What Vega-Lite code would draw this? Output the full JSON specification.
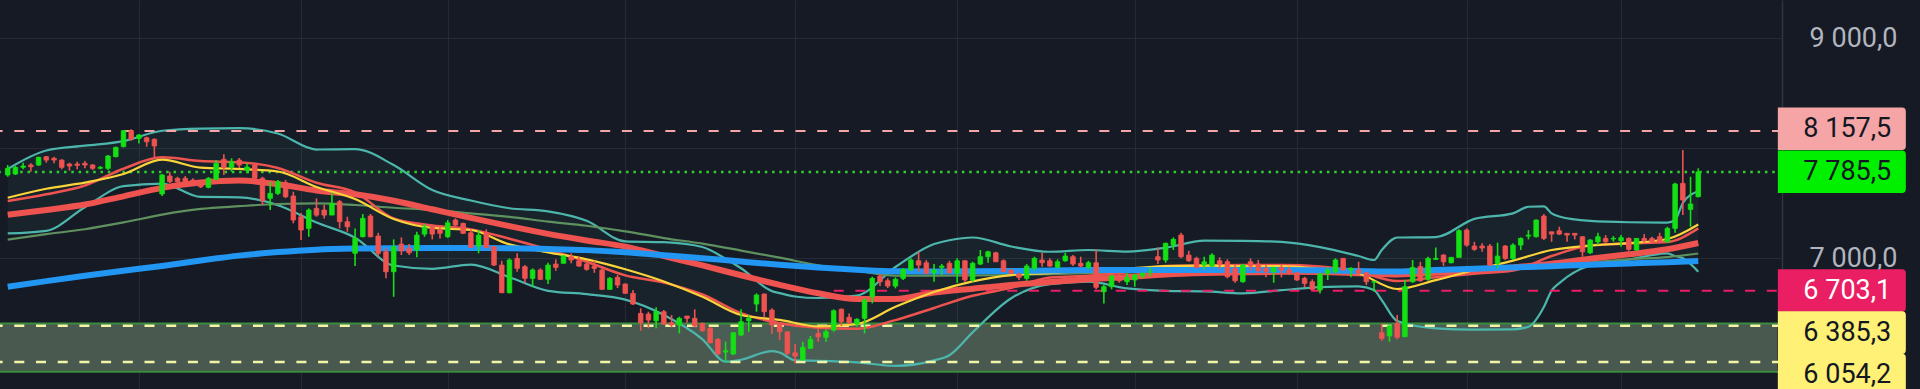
{
"$schema":"https://vega.github.io/schema/vega-lite/v6.json",
"width":1782,"height":389,
"padding":{"left":0,"top":0,"right":138,"bottom":0},
"autosize":{"type":"none"},
"background":"#161a25",
"config":{"view":{"stroke":null}},
"datasets":{
"candles":[
{"i":0,"o":7757,"h":7848,"l":7741,"c":7818},{"i":1,"o":7766,"h":7839,"l":7757,"c":7827},{"i":2,"o":7827,"h":7869,"l":7809,"c":7839},{"i":3,"o":7848,"h":7863,"l":7787,"c":7832},{"i":4,"o":7848,"h":7924,"l":7839,"c":7918},
{"i":5,"o":7924,"h":7930,"l":7869,"c":7893},{"i":6,"o":7909,"h":7924,"l":7863,"c":7893},{"i":7,"o":7893,"h":7900,"l":7809,"c":7827},{"i":8,"o":7857,"h":7869,"l":7796,"c":7839},{"i":9,"o":7857,"h":7878,"l":7809,"c":7845},
{"i":10,"o":7863,"h":7884,"l":7818,"c":7848},{"i":11,"o":7848,"h":7857,"l":7802,"c":7818},{"i":12,"o":7818,"h":7839,"l":7809,"c":7827},{"i":13,"o":7818,"h":7939,"l":7802,"c":7930},{"i":14,"o":7924,"h":8015,"l":7918,"c":8009},
{"i":15,"o":8015,"h":8167,"l":8009,"c":8160},{"i":16,"o":8160,"h":8173,"l":8069,"c":8082},{"i":17,"o":8091,"h":8130,"l":8045,"c":8121},{"i":18,"o":8096,"h":8106,"l":8015,"c":8060},{"i":19,"o":8082,"h":8091,"l":7909,"c":8021},
{"i":20,"o":7584,"h":7766,"l":7566,"c":7757},{"i":21,"o":7748,"h":7787,"l":7684,"c":7696},{"i":22,"o":7727,"h":7741,"l":7681,"c":7696},{"i":23,"o":7727,"h":7748,"l":7684,"c":7696},{"i":24,"o":7711,"h":7727,"l":7675,"c":7693},
{"i":25,"o":7696,"h":7711,"l":7638,"c":7650},{"i":26,"o":7645,"h":7739,"l":7636,"c":7727},{"i":27,"o":7718,"h":7893,"l":7711,"c":7863},{"i":28,"o":7900,"h":7945,"l":7757,"c":7827},{"i":29,"o":7827,"h":7909,"l":7787,"c":7878},
{"i":30,"o":7893,"h":7912,"l":7821,"c":7848},{"i":31,"o":7802,"h":7863,"l":7772,"c":7830},{"i":32,"o":7848,"h":7863,"l":7711,"c":7727},{"i":33,"o":7727,"h":7741,"l":7484,"c":7523},{"i":34,"o":7545,"h":7696,"l":7438,"c":7590},
{"i":35,"o":7590,"h":7711,"l":7575,"c":7696},{"i":36,"o":7687,"h":7711,"l":7547,"c":7559},{"i":37,"o":7566,"h":7605,"l":7317,"c":7347},{"i":38,"o":7377,"h":7411,"l":7165,"c":7256},{"i":39,"o":7271,"h":7453,"l":7195,"c":7438},
{"i":40,"o":7453,"h":7545,"l":7377,"c":7392},{"i":41,"o":7438,"h":7484,"l":7362,"c":7392},{"i":42,"o":7392,"h":7596,"l":7392,"c":7499},{"i":43,"o":7514,"h":7529,"l":7271,"c":7332},{"i":44,"o":7332,"h":7377,"l":7240,"c":7286},
{"i":45,"o":7044,"h":7271,"l":6928,"c":7180},{"i":46,"o":7195,"h":7402,"l":7189,"c":7362},{"i":47,"o":7383,"h":7402,"l":7189,"c":7195},{"i":48,"o":7201,"h":7231,"l":7013,"c":7044},{"i":49,"o":7058,"h":7089,"l":6816,"c":6876},
{"i":50,"o":6876,"h":7171,"l":6648,"c":7104},{"i":51,"o":7128,"h":7189,"l":7028,"c":7067},{"i":52,"o":7089,"h":7128,"l":7028,"c":7049},{"i":53,"o":7074,"h":7240,"l":7007,"c":7210},{"i":54,"o":7219,"h":7311,"l":7195,"c":7281},
{"i":55,"o":7281,"h":7292,"l":7171,"c":7219},{"i":56,"o":7262,"h":7281,"l":7180,"c":7226},{"i":57,"o":7195,"h":7347,"l":7183,"c":7322},{"i":58,"o":7347,"h":7362,"l":7292,"c":7301},{"i":59,"o":7317,"h":7322,"l":7219,"c":7226},
{"i":60,"o":7231,"h":7262,"l":7098,"c":7098},{"i":61,"o":7110,"h":7256,"l":7044,"c":7210},{"i":62,"o":7231,"h":7262,"l":7089,"c":7098},{"i":63,"o":7104,"h":7110,"l":6928,"c":6937},{"i":64,"o":6937,"h":6976,"l":6685,"c":6685},
{"i":65,"o":6685,"h":6998,"l":6679,"c":6983},{"i":66,"o":6998,"h":7044,"l":6876,"c":6907},{"i":67,"o":6922,"h":6937,"l":6776,"c":6816},{"i":68,"o":6816,"h":6907,"l":6740,"c":6892},{"i":69,"o":6892,"h":6907,"l":6801,"c":6807},
{"i":70,"o":6807,"h":6958,"l":6764,"c":6937},{"i":71,"o":6946,"h":6989,"l":6885,"c":6916},{"i":72,"o":6953,"h":7028,"l":6953,"c":7019},{"i":73,"o":7013,"h":7044,"l":6953,"c":6983},{"i":74,"o":6976,"h":7013,"l":6922,"c":6928},
{"i":75,"o":6946,"h":6958,"l":6885,"c":6898},{"i":76,"o":6928,"h":6976,"l":6867,"c":6907},{"i":77,"o":6892,"h":6907,"l":6710,"c":6716},{"i":78,"o":6716,"h":6828,"l":6710,"c":6816},{"i":79,"o":6825,"h":6846,"l":6728,"c":6755},
{"i":80,"o":6764,"h":6770,"l":6679,"c":6679},{"i":81,"o":6679,"h":6710,"l":6573,"c":6582},{"i":82,"o":6497,"h":6543,"l":6339,"c":6412},{"i":83,"o":6491,"h":6512,"l":6361,"c":6436},{"i":84,"o":6430,"h":6552,"l":6361,"c":6512},
{"i":85,"o":6512,"h":6527,"l":6391,"c":6400},{"i":86,"o":6412,"h":6482,"l":6370,"c":6391},{"i":87,"o":6391,"h":6466,"l":6315,"c":6452},{"i":88,"o":6473,"h":6473,"l":6412,"c":6452},{"i":89,"o":6452,"h":6534,"l":6370,"c":6382},
{"i":90,"o":6406,"h":6412,"l":6330,"c":6339},{"i":91,"o":6361,"h":6375,"l":6224,"c":6229},{"i":92,"o":6261,"h":6270,"l":6118,"c":6127},{"i":93,"o":6145,"h":6239,"l":6057,"c":6157},{"i":94,"o":6127,"h":6327,"l":6118,"c":6321},
{"i":95,"o":6300,"h":6534,"l":6291,"c":6421},{"i":96,"o":6430,"h":6482,"l":6330,"c":6452},{"i":97,"o":6582,"h":6679,"l":6512,"c":6664},{"i":98,"o":6673,"h":6679,"l":6461,"c":6512},{"i":99,"o":6527,"h":6543,"l":6309,"c":6391},
{"i":100,"o":6400,"h":6412,"l":6254,"c":6330},{"i":101,"o":6330,"h":6330,"l":6118,"c":6133},{"i":102,"o":6138,"h":6218,"l":6042,"c":6108},{"i":103,"o":6072,"h":6239,"l":6072,"c":6188},{"i":104,"o":6178,"h":6291,"l":6178,"c":6260},
{"i":105,"o":6315,"h":6361,"l":6239,"c":6284},{"i":106,"o":6279,"h":6352,"l":6239,"c":6330},{"i":107,"o":6345,"h":6534,"l":6330,"c":6521},{"i":108,"o":6534,"h":6543,"l":6382,"c":6421},{"i":109,"o":6461,"h":6497,"l":6400,"c":6412},
{"i":110,"o":6400,"h":6452,"l":6375,"c":6443},{"i":111,"o":6452,"h":6634,"l":6315,"c":6618},{"i":112,"o":6648,"h":6831,"l":6588,"c":6816},{"i":113,"o":6837,"h":6855,"l":6746,"c":6785},{"i":114,"o":6794,"h":6816,"l":6728,"c":6746},
{"i":115,"o":6746,"h":6825,"l":6725,"c":6807},{"i":116,"o":6816,"h":6907,"l":6801,"c":6898},{"i":117,"o":6892,"h":6998,"l":6885,"c":6983},{"i":118,"o":6976,"h":7058,"l":6876,"c":6937},{"i":119,"o":6958,"h":6983,"l":6855,"c":6862},
{"i":120,"o":6867,"h":6946,"l":6785,"c":6892},{"i":121,"o":6916,"h":6946,"l":6846,"c":6928},{"i":122,"o":6953,"h":6976,"l":6862,"c":6867},{"i":123,"o":6862,"h":6998,"l":6776,"c":6976},{"i":124,"o":6976,"h":6983,"l":6785,"c":6801},
{"i":125,"o":6801,"h":6967,"l":6785,"c":6953},{"i":126,"o":6946,"h":7074,"l":6937,"c":7013},{"i":127,"o":7013,"h":7067,"l":6958,"c":7058},{"i":128,"o":7049,"h":7058,"l":6967,"c":6967},{"i":129,"o":6976,"h":6989,"l":6876,"c":6876},
{"i":130,"o":6892,"h":6898,"l":6855,"c":6862},{"i":131,"o":6855,"h":6867,"l":6801,"c":6825},{"i":132,"o":6816,"h":6946,"l":6794,"c":6928},{"i":133,"o":6907,"h":7013,"l":6885,"c":6998},{"i":134,"o":6983,"h":7049,"l":6922,"c":6958},
{"i":135,"o":6976,"h":6998,"l":6922,"c":6928},{"i":136,"o":6916,"h":6989,"l":6907,"c":6967},{"i":137,"o":6976,"h":7049,"l":6967,"c":7019},{"i":138,"o":7013,"h":7028,"l":6928,"c":6946},{"i":139,"o":6953,"h":7013,"l":6916,"c":6928},
{"i":140,"o":6916,"h":6976,"l":6898,"c":6958},{"i":141,"o":6958,"h":7080,"l":6716,"c":6734},{"i":142,"o":6694,"h":6755,"l":6588,"c":6740},{"i":143,"o":6740,"h":6846,"l":6716,"c":6837},{"i":144,"o":6846,"h":6867,"l":6776,"c":6794},
{"i":145,"o":6785,"h":6862,"l":6755,"c":6825},{"i":146,"o":6801,"h":6855,"l":6740,"c":6846},{"i":147,"o":6837,"h":6867,"l":6816,"c":6862},{"i":148,"o":6873,"h":6916,"l":6831,"c":6876},{"i":149,"o":7013,"h":7098,"l":6946,"c":6983},
{"i":150,"o":6983,"h":7141,"l":6958,"c":7135},{"i":151,"o":7119,"h":7189,"l":7074,"c":7171},{"i":152,"o":7210,"h":7231,"l":6998,"c":7013},{"i":153,"o":7028,"h":7067,"l":6967,"c":6976},{"i":154,"o":6998,"h":7013,"l":6907,"c":6916},
{"i":155,"o":6937,"h":7013,"l":6898,"c":6967},{"i":156,"o":6928,"h":7044,"l":6916,"c":7028},{"i":157,"o":6976,"h":7007,"l":6898,"c":6946},{"i":158,"o":6967,"h":6989,"l":6816,"c":6831},{"i":159,"o":6907,"h":6946,"l":6776,"c":6794},
{"i":160,"o":6785,"h":6946,"l":6776,"c":6937},{"i":161,"o":6967,"h":6998,"l":6885,"c":6928},{"i":162,"o":6946,"h":6983,"l":6862,"c":6885},{"i":163,"o":6907,"h":6937,"l":6825,"c":6876},{"i":164,"o":6876,"h":6916,"l":6776,"c":6916},
{"i":165,"o":6916,"h":6937,"l":6825,"c":6892},{"i":166,"o":6892,"h":6922,"l":6846,"c":6862},{"i":167,"o":6867,"h":6876,"l":6794,"c":6801},{"i":168,"o":6816,"h":6831,"l":6734,"c":6770},{"i":169,"o":6785,"h":6807,"l":6710,"c":6716},
{"i":170,"o":6710,"h":6867,"l":6679,"c":6855},{"i":171,"o":6862,"h":6916,"l":6801,"c":6892},{"i":172,"o":6876,"h":6998,"l":6862,"c":6983},{"i":173,"o":6998,"h":6998,"l":6892,"c":6892},{"i":174,"o":6892,"h":6916,"l":6825,"c":6907},
{"i":175,"o":6892,"h":6967,"l":6846,"c":6862},{"i":176,"o":6867,"h":6876,"l":6755,"c":6785},{"i":177,"o":6782,"h":6794,"l":6694,"c":6785},{"i":178,"o":6321,"h":6400,"l":6248,"c":6270},{"i":179,"o":6291,"h":6400,"l":6239,"c":6382},
{"i":180,"o":6406,"h":6482,"l":6261,"c":6279},{"i":181,"o":6284,"h":6801,"l":6284,"c":6740},{"i":182,"o":6785,"h":6983,"l":6776,"c":6916},{"i":183,"o":6922,"h":6967,"l":6785,"c":6794},{"i":184,"o":6807,"h":7013,"l":6794,"c":6998},
{"i":185,"o":6989,"h":7098,"l":6983,"c":6998},{"i":186,"o":7028,"h":7037,"l":6928,"c":6967},{"i":187,"o":6958,"h":7007,"l":6953,"c":7007},{"i":188,"o":7007,"h":7262,"l":7007,"c":7250},{"i":189,"o":7256,"h":7271,"l":7104,"c":7119},
{"i":190,"o":7110,"h":7149,"l":7067,"c":7080},{"i":191,"o":7110,"h":7135,"l":7058,"c":7092},{"i":192,"o":7110,"h":7128,"l":6928,"c":6937},{"i":193,"o":6953,"h":7141,"l":6907,"c":7019},{"i":194,"o":7110,"h":7119,"l":6983,"c":6998},
{"i":195,"o":6998,"h":7135,"l":6983,"c":7119},{"i":196,"o":7119,"h":7189,"l":7074,"c":7180},{"i":197,"o":7201,"h":7256,"l":7171,"c":7210},{"i":198,"o":7195,"h":7353,"l":7189,"c":7347},{"i":199,"o":7383,"h":7402,"l":7165,"c":7180},
{"i":200,"o":7240,"h":7240,"l":7149,"c":7219},{"i":201,"o":7249,"h":7286,"l":7210,"c":7219},{"i":202,"o":7226,"h":7226,"l":7149,"c":7210},{"i":203,"o":7226,"h":7226,"l":7171,"c":7210},{"i":204,"o":7195,"h":7201,"l":7013,"c":7058},
{"i":205,"o":7049,"h":7171,"l":7037,"c":7165},{"i":206,"o":7149,"h":7231,"l":7119,"c":7195},{"i":207,"o":7180,"h":7210,"l":7140,"c":7149},{"i":208,"o":7174,"h":7201,"l":7149,"c":7180},{"i":209,"o":7158,"h":7210,"l":7104,"c":7186},
{"i":210,"o":7180,"h":7189,"l":7067,"c":7080},{"i":211,"o":7074,"h":7180,"l":7067,"c":7180},{"i":212,"o":7180,"h":7219,"l":7140,"c":7158},{"i":213,"o":7180,"h":7195,"l":7140,"c":7149},{"i":214,"o":7195,"h":7231,"l":7140,"c":7149},
{"i":215,"o":7149,"h":7286,"l":7140,"c":7271},{"i":216,"o":7271,"h":7687,"l":7231,"c":7675},{"i":217,"o":7681,"h":7985,"l":7392,"c":7529},{"i":218,"o":7444,"h":7741,"l":7286,"c":7493},{"i":219,"o":7559,"h":7818,"l":7554,"c":7785.5}
],
"ma":[
{"i":0,"yel":7550,"rt":7520,"rk":7395,"gg":7168,"bl":6740},{"i":5,"yel":7632,"rt":7581,"rk":7439,"gg":7218,"bl":6791},{"i":10,"yel":7688,"rt":7661,"rk":7488,"gg":7263,"bl":6839},
{"i":15,"yel":7766,"rt":7814,"rk":7563,"gg":7325,"bl":6885},{"i":20,"yel":7897,"rt":7918,"rk":7640,"gg":7396,"bl":6929},{"i":25,"yel":7824,"rt":7884,"rk":7689,"gg":7448,"bl":6979},
{"i":30,"yel":7812,"rt":7873,"rk":7706,"gg":7473,"bl":7023},{"i":35,"yel":7789,"rt":7821,"rk":7673,"gg":7493,"bl":7055},{"i":40,"yel":7648,"rt":7686,"rk":7616,"gg":7499,"bl":7077},
{"i":45,"yel":7538,"rt":7599,"rk":7581,"gg":7484,"bl":7087},{"i":50,"yel":7356,"rt":7362,"rk":7523,"gg":7459,"bl":7091},{"i":55,"yel":7275,"rt":7298,"rk":7445,"gg":7439,"bl":7092},
{"i":60,"yel":7256,"rt":7262,"rk":7367,"gg":7408,"bl":7092},{"i":65,"yel":7125,"rt":7177,"rk":7291,"gg":7376,"bl":7090},{"i":70,"yel":7053,"rt":7079,"rk":7221,"gg":7333,"bl":7083},
{"i":75,"yel":6989,"rt":6967,"rk":7161,"gg":7295,"bl":7073},{"i":80,"yel":6899,"rt":6843,"rk":7105,"gg":7244,"bl":7054},{"i":85,"yel":6788,"rt":6777,"rk":7019,"gg":7183,"bl":7026},
{"i":90,"yel":6648,"rt":6669,"rk":6934,"gg":7132,"bl":7000},{"i":95,"yel":6482,"rt":6500,"rk":6844,"gg":7069,"bl":6969},{"i":100,"yel":6438,"rt":6408,"rk":6757,"gg":7004,"bl":6940},
{"i":105,"yel":6379,"rt":6367,"rk":6680,"gg":6935,"bl":6915},{"i":110,"yel":6400,"rt":6358,"rk":6628,"gg":6885,"bl":6895},{"i":115,"yel":6557,"rt":6436,"rk":6628,"gg":6840,"bl":6880},
{"i":120,"yel":6691,"rt":6546,"rk":6686,"gg":6840,"bl":6878},{"i":125,"yel":6788,"rt":6657,"rk":6722,"gg":6843,"bl":6881},{"i":130,"yel":6846,"rt":6729,"rk":6756,"gg":6846,"bl":6882},
{"i":135,"yel":6864,"rt":6823,"rk":6782,"gg":6855,"bl":6887},{"i":140,"yel":6886,"rt":6840,"rk":6808,"gg":6863,"bl":6891},{"i":145,"yel":6905,"rt":6871,"rk":6828,"gg":6870,"bl":6892},
{"i":150,"yel":6928,"rt":6928,"rk":6851,"gg":6876,"bl":6892},{"i":155,"yel":6932,"rt":6933,"rk":6864,"gg":6874,"bl":6892},{"i":160,"yel":6928,"rt":6937,"rk":6871,"gg":6878,"bl":6892},
{"i":165,"yel":6928,"rt":6937,"rk":6875,"gg":6881,"bl":6892},{"i":170,"yel":6903,"rt":6925,"rk":6874,"gg":6884,"bl":6889},{"i":175,"yel":6860,"rt":6875,"rk":6863,"gg":6888,"bl":6883},
{"i":180,"yel":6719,"rt":6791,"rk":6851,"gg":6892,"bl":6878},{"i":185,"yel":6800,"rt":6826,"rk":6866,"gg":6903,"bl":6891},{"i":190,"yel":6892,"rt":6858,"rk":6888,"gg":6914,"bl":6903},
{"i":195,"yel":6977,"rt":6887,"rk":6915,"gg":6924,"bl":6915},{"i":200,"yel":7074,"rt":7019,"rk":6949,"gg":6942,"bl":6927},{"i":205,"yel":7115,"rt":7115,"rk":6995,"gg":6962,"bl":6940},
{"i":210,"yel":7137,"rt":7133,"rk":7035,"gg":6990,"bl":6952},{"i":215,"yel":7174,"rt":7147,"rk":7081,"gg":7010,"bl":6963},{"i":219,"yel":7306,"rt":7271,"rk":7138,"gg":7042,"bl":6974}
],
"bb":[
{"i":0,"up":7812,"lo":7225},{"i":5,"up":7980,"lo":7249},{"i":10,"up":8024,"lo":7463},{"i":15,"up":8066,"lo":7655},{"i":20,"up":8160,"lo":7679},
{"i":25,"up":8180,"lo":7557},{"i":30,"up":8183,"lo":7554},{"i":35,"up":8135,"lo":7481},{"i":40,"up":7989,"lo":7324},{"i":45,"up":7992,"lo":7186},
{"i":50,"up":7848,"lo":6933},{"i":55,"up":7620,"lo":6903},{"i":60,"up":7525,"lo":6941},{"i":65,"up":7454,"lo":6826},{"i":70,"up":7426,"lo":6702},
{"i":75,"up":7340,"lo":6672},{"i":80,"up":7153,"lo":6622},{"i":85,"up":7145,"lo":6482},{"i":90,"up":7101,"lo":6261},{"i":93,"up":6994,"lo":6057},
{"i":95,"up":6908,"lo":6075},{"i":99,"up":6700,"lo":6154},{"i":100,"up":6682,"lo":6141},{"i":102,"up":6651,"lo":6069},{"i":105,"up":6637,"lo":6065},
{"i":110,"up":6659,"lo":6051},{"i":115,"up":6919,"lo":6019},{"i":120,"up":7128,"lo":6069},{"i":122,"up":7163,"lo":6116},{"i":125,"up":7188,"lo":6324},
{"i":130,"up":7106,"lo":6635},{"i":135,"up":7058,"lo":6764},{"i":140,"up":7074,"lo":6787},{"i":145,"up":7060,"lo":6724},{"i":150,"up":7095,"lo":6702},
{"i":155,"up":7160,"lo":6698},{"i":160,"up":7158,"lo":6680},{"i":165,"up":7148,"lo":6708},{"i":170,"up":7101,"lo":6737},{"i":175,"up":7019,"lo":6743},
{"i":177,"up":6983,"lo":6710},{"i":178,"up":7074,"lo":6618},{"i":180,"up":7188,"lo":6427},{"i":185,"up":7192,"lo":6361},{"i":190,"up":7358,"lo":6350},
{"i":195,"up":7408,"lo":6352},{"i":197,"up":7468,"lo":6375},{"i":199,"up":7472,"lo":6555},{"i":200,"up":7408,"lo":6705},{"i":201,"up":7379,"lo":6773},
{"i":205,"up":7339,"lo":6933},{"i":210,"up":7327,"lo":6987},{"i":215,"up":7324,"lo":7043},{"i":216,"up":7347,"lo":7019},{"i":217,"up":7502,"lo":6998},
{"i":219,"up":7609,"lo":6876}
],
"tags":[
{"label":"8 157,5","pos":8178,"kind":"a"},{"label":"7 785,5","pos":7787,"kind":"b"},{"label":"6 703,1","pos":6705,"kind":"c"},{"label":"6 385,3","pos":6322,"kind":"d"},{"label":"6 054,2","pos":5935,"kind":"e"}
]
},
"layer":[
{"data":{"values":[{"top":6406,"bottom":5965}]},
 "mark":{"type":"rect","color":"#4a5950"},
 "encoding":{
  "x":{"datum":-3,"type":"quantitative","scale":{"domain":[-0.35,229.2],"nice":false,"zero":false}},
  "x2":{"datum":229.2},
  "y":{"field":"top","type":"quantitative","scale":{"domain":[5808.5,9350.5],"nice":false,"zero":false},"title":null},
  "y2":{"field":"bottom"}}},
{"data":{"name":"bb"},
 "mark":{"type":"area","color":"#4db6ac","opacity":0.06,"interpolate":"monotone"},
 "encoding":{
  "x":{"field":"i","type":"quantitative","scale":{"domain":[-0.35,229.2],"nice":false,"zero":false},
       "axis":{"values":[17,38,57,80,102,123,146,167,189,209],"grid":true,"gridColor":"#262a35","gridWidth":1,"labels":false,"ticks":false,"domain":false,"title":null}},
  "y":{"field":"lo","type":"quantitative","scale":{"domain":[5808.5,9350.5],"nice":false,"zero":false},
       "axis":{"orient":"right","values":[6000,7000,8000,9000],"grid":true,"gridColor":"#262a35","gridWidth":1,"ticks":false,"domain":true,"domainColor":"#30343f","domainWidth":1.5,"labelPadding":115,"labelAlign":"right","labelBaseline":"middle","labelFont":"Roboto","labelFontSize":27,"labelColor":"#b2b5be","labelOverlap":false,"labelBound":false,"labelFlush":false,"title":null,
               "labelExpr":"datum.value == 8000 || datum.value == 6000 ? '' : replace(replace(format(datum.value, ',.1f'), ',', ' '), '.', ',')"}},
  "y2":{"field":"up"}}},
{"data":{"values":[{"top":6406,"bottom":5965}]},
 "mark":{"type":"rule","color":"#3b8b3e","strokeWidth":2},
 "encoding":{"y":{"field":"top","type":"quantitative","scale":{"domain":[5808.5,9350.5],"nice":false,"zero":false},"title":null}}},
{"data":{"values":[{"top":6406,"bottom":5965}]},
 "mark":{"type":"rule","color":"#3b8b3e","strokeWidth":2},
 "encoding":{"y":{"field":"bottom","type":"quantitative","scale":{"domain":[5808.5,9350.5],"nice":false,"zero":false},"title":null}}},
{"data":{"name":"bb"},
 "mark":{"type":"line","color":"#4db6ac","strokeWidth":2.2,"interpolate":"monotone"},
 "encoding":{"x":{"field":"i","type":"quantitative","title":null},"y":{"field":"up","type":"quantitative","title":null}}},
{"data":{"name":"bb"},
 "mark":{"type":"line","color":"#4db6ac","strokeWidth":2.2,"interpolate":"monotone"},
 "encoding":{"x":{"field":"i","type":"quantitative","title":null},"y":{"field":"lo","type":"quantitative","title":null}}},
{"data":{"values":[{"p":8157.5}]},
 "mark":{"type":"rule","color":"#f5a5a8","strokeWidth":2,"strokeDash":[10,11.7]},
 "encoding":{"y":{"field":"p","type":"quantitative","title":null}}},
{"data":{"values":[{"p":7785.5}]},
 "mark":{"type":"rule","color":"#2ed12e","strokeWidth":2.5,"strokeDash":[2.5,4.8]},
 "encoding":{"y":{"field":"p","type":"quantitative","title":null}}},
{"data":{"values":[{"p":6385.3},{"p":6054.2}]},
 "mark":{"type":"rule","color":"#f2f5a6","strokeWidth":2.5,"strokeDash":[10,11.7]},
 "encoding":{"y":{"field":"p","type":"quantitative","title":null}}},
{"data":{"values":[{"p":6703.1,"from":107}]},
 "mark":{"type":"rule","color":"#e91e63","strokeWidth":2,"strokeDash":[10,11.7]},
 "encoding":{"x":{"field":"from","type":"quantitative","title":null},"x2":{"datum":229.2},"y":{"field":"p","type":"quantitative","title":null}}},
{"data":{"name":"ma"},
 "mark":{"type":"line","color":"#5e915e","strokeWidth":2.2,"interpolate":"monotone"},
 "encoding":{"x":{"field":"i","type":"quantitative","title":null},"y":{"field":"gg","type":"quantitative","title":null}}},
{"data":{"name":"ma"},
 "mark":{"type":"line","color":"#ef5350","strokeWidth":6,"interpolate":"monotone"},
 "encoding":{"x":{"field":"i","type":"quantitative","title":null},"y":{"field":"rk","type":"quantitative","title":null}}},
{"data":{"name":"ma"},
 "mark":{"type":"line","color":"#ef5350","strokeWidth":2.5,"interpolate":"monotone"},
 "encoding":{"x":{"field":"i","type":"quantitative","title":null},"y":{"field":"rt","type":"quantitative","title":null}}},
{"data":{"name":"ma"},
 "mark":{"type":"line","color":"#fbd33a","strokeWidth":2.2,"interpolate":"monotone"},
 "encoding":{"x":{"field":"i","type":"quantitative","title":null},"y":{"field":"yel","type":"quantitative","title":null}}},
{"data":{"name":"ma"},
 "mark":{"type":"line","color":"#2196f3","strokeWidth":6,"interpolate":"monotone"},
 "encoding":{"x":{"field":"i","type":"quantitative","title":null},"y":{"field":"bl","type":"quantitative","title":null}}},
{"data":{"name":"candles"},
 "mark":{"type":"rule","strokeWidth":1.6},
 "encoding":{"x":{"field":"i","type":"quantitative","title":null},"y":{"field":"l","type":"quantitative","title":null},"y2":{"field":"h"},
  "color":{"condition":{"test":"datum.c >= datum.o","value":"#14e014"},"value":"#ef5350"}}},
{"data":{"name":"candles"},
 "mark":{"type":"bar","width":4.6,"strokeWidth":0.8},
 "encoding":{"x":{"field":"i","type":"quantitative","title":null},"y":{"field":"o","type":"quantitative","title":null},"y2":{"field":"c"},
  "color":{"condition":{"test":"datum.c >= datum.o","value":"#14e014"},"value":"#ef5350"},
  "stroke":{"condition":{"test":"datum.c >= datum.o","value":"#14e014"},"value":"#ef5350"}}},
{"data":{"name":"tags"},
 "mark":{"type":"point","shape":"M-1,-0.333L0.94,-0.333Q1,-0.333 1,-0.27L1,0.27Q1,0.333 0.94,0.333L-1,0.333Z","filled":true,"size":16384,"opacity":1,"strokeWidth":0},
 "encoding":{"x":{"datum":237.6,"type":"quantitative"},"y":{"field":"pos","type":"quantitative","title":null},
  "fill":{"condition":[{"test":"datum.kind == 'a'","value":"#f5a5a6"},{"test":"datum.kind == 'b'","value":"#00f000"},{"test":"datum.kind == 'c'","value":"#e91e63"}],"value":"#fff176"}}},
{"data":{"name":"tags"},
 "mark":{"type":"text","align":"right","baseline":"middle","font":"Roboto","fontSize":27},
 "encoding":{"x":{"datum":244,"type":"quantitative"},"y":{"field":"pos","type":"quantitative","title":null},"text":{"field":"label"},
  "color":{"condition":{"test":"datum.kind == 'c'","value":"#ffffff"},"value":"#131722"}}}
]
}
